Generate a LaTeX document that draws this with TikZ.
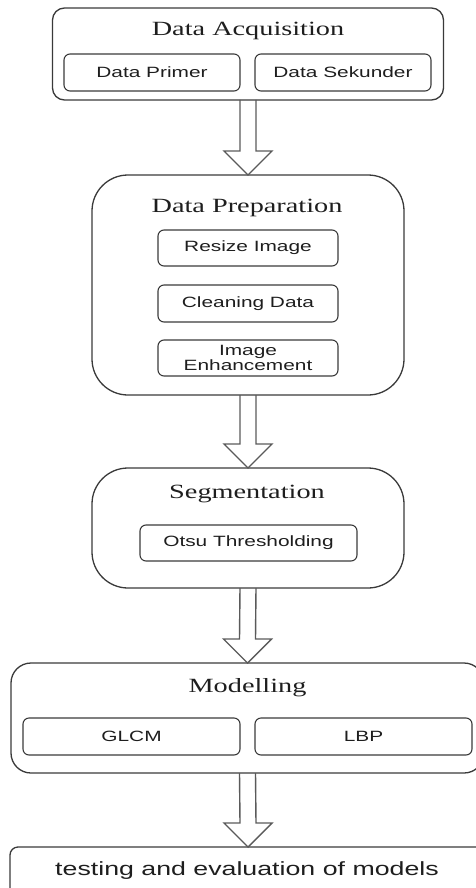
\documentclass[tikz,border=0pt]{standalone}
\usepackage{fontspec}
\setmainfont{Liberation Serif}[FakeStretch=1.4]
\newfontfamily\sansf{Liberation Sans}[FakeStretch=1.4]
\usetikzlibrary{calc}
\definecolor{linec}{HTML}{3A3A3A}
\definecolor{arrc}{HTML}{5A5A5A}
\definecolor{txtc}{HTML}{1E1E1E}
\newcommand\fatarr[2]{%
  \draw[arrowline] ($(#1.south)+(-8,0)$) -- ($(#2.north)+(-8,-24)$) -- ($(#2.north)+(-24,-24)$) -- (#2.north)
     -- ($(#2.north)+(24,-24)$) -- ($(#2.north)+(8,-24)$) -- ($(#1.south)+(8,0)$);}
\begin{document}
\begin{tikzpicture}[x=1pt,y=-1pt,
  outer/.style={draw=linec, line width=1.3pt, rounded corners=#1, inner sep=0pt, outer sep=0pt},
  innerbox/.style={draw=linec, line width=1.1pt, rounded corners=6pt, inner sep=0pt, align=center,
     text=txtc, font=\sansf\fontsize{14.9}{15}\selectfont},
  title/.style={text=txtc, inner sep=0pt, anchor=base, font=\fontsize{20.2}{24}\selectfont},
  arrowline/.style={draw=arrc, line width=1.4pt, line join=miter}]
\useasboundingbox (0,0) rectangle (476,888);
\clip (0,0) rectangle (476,888);
% Data Acquisition
\node[outer=12pt, minimum width=391pt, minimum height=92pt] (acq) at (248,54) {};
\node[title] (acqT) at (248,36) {Data Acquisition};
\node[innerbox, minimum width=176pt, minimum height=37pt] (prim) at (152,72.5) {Data Primer};
\node[innerbox, minimum width=176pt, minimum height=37pt] (sek) at (343,72.5) {Data Sekunder};
% Data Preparation
\node[outer=36pt, minimum width=312pt, minimum height=220pt] (prep) at (248,285) {};
\node[title] (prepT) at (247,212) {Data Preparation};
\node[innerbox, minimum width=180pt, minimum height=36pt] (resize) at (248,248) {Resize Image};
\node[innerbox, minimum width=180pt, minimum height=37pt] (clean) at (248,303.5) {Cleaning Data};
\node[innerbox, minimum width=180pt, minimum height=36pt] (enh) at (248,358) {Image\\Enhancement};
% Segmentation
\node[outer=36pt, minimum width=312pt, minimum height=120pt] (seg) at (248,528) {};
\node[title] (segT) at (247,498) {Segmentation};
\node[innerbox, minimum width=217pt, minimum height=36pt] (otsu) at (248.5,543) {Otsu Thresholding};
% Modelling
\node[outer=20pt, minimum width=473pt, minimum height=110pt] (mod) at (247.5,718) {};
\node[title] (modT) at (247.5,692) {Modelling};
\node[innerbox, minimum width=217pt, minimum height=37pt] (glcm) at (131.5,736.5) {GLCM};
\node[innerbox, minimum width=217pt, minimum height=37pt] (lbp) at (363.5,736.5) {LBP};
% Testing
\node[outer=8pt, minimum width=476pt, minimum height=86pt] (test) at (248,890) {};
\node[title, font=\sansf\fontsize{19.1}{22}\selectfont] (testT) at (247,875) {testing and evaluation of models};
% arrows
\fatarr{acq}{prep}
\fatarr{prep}{seg}
\fatarr{seg}{mod}
\fatarr{mod}{test}
\end{tikzpicture}
\end{document}
